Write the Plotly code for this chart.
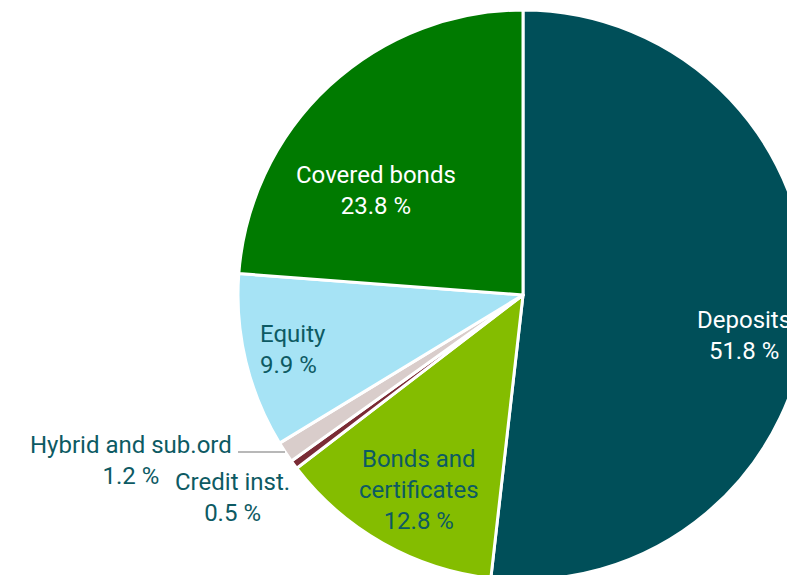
import plotly.graph_objects as go

labels = ["Deposits", "Bonds and certificates", "Credit inst.", "Hybrid and sub.ord", "Equity", "Covered bonds"]
display_labels = ["Deposits", "Bonds and<br>certificates", "Credit inst.", "Hybrid and sub.ord", "Equity", "Covered bonds"]
values = [51.8, 12.8, 0.5, 1.2, 9.9, 23.8]
colors = ["#004F59", "#84BD00", "#7A2B35", "#D9CDCB", "#A6E3F5", "#007A00"]
text_colors = ["#FFFFFF", "#0D5A63", "#0D5A63", "#0D5A63", "#0D5A63", "#FFFFFF"]

# label anchor positions in pixels (x, y from top) and alignment
label_pos = [(744, 335), (419, 490), (232, 497), (131, 460), (258, 349), (376, 190)]
label_align = ["center", "center", "center", "center", "left", "center"]

W, H = 1100, 600
cx, cy, r = 523, 295, 285

fig = go.Figure(go.Pie(
    labels=labels,
    values=values,
    textinfo="none",
    sort=False,
    direction="clockwise",
    rotation=0,
    marker=dict(colors=colors, line=dict(color="white", width=3)),
    domain=dict(x=[(cx - r) / W, (cx + r) / W], y=[(H - cy - r) / H, (H - cy + r) / H]),
    showlegend=False,
    hoverinfo="label+value",
))

for dl, v, (px, py), al, tc in zip(display_labels, values, label_pos, label_align, text_colors):
    fig.add_annotation(x=px / W, y=1 - py / H, xref="paper", yref="paper",
                       xanchor=al, yanchor="middle", align=al,
                       text=f"{dl}<br>{v:.1f} %", showarrow=False,
                       font=dict(family="Roboto", size=24, color=tc))

# leader line for the hybrid slice
fig.add_shape(type="line", xref="paper", yref="paper",
              x0=238 / W, x1=285 / W, y0=1 - 452 / H, y1=1 - 452 / H,
              line=dict(color="#A0A0A0", width=1.5))

fig.update_layout(
    width=W, height=H,
    margin=dict(l=0, r=0, t=0, b=0),
    paper_bgcolor="white",
    plot_bgcolor="white",
    font=dict(family="Roboto"),
)

fig.write_html("out.html", post_script="document.body.style.margin='0';document.body.style.overflow='hidden';document.documentElement.style.overflow='hidden';")
